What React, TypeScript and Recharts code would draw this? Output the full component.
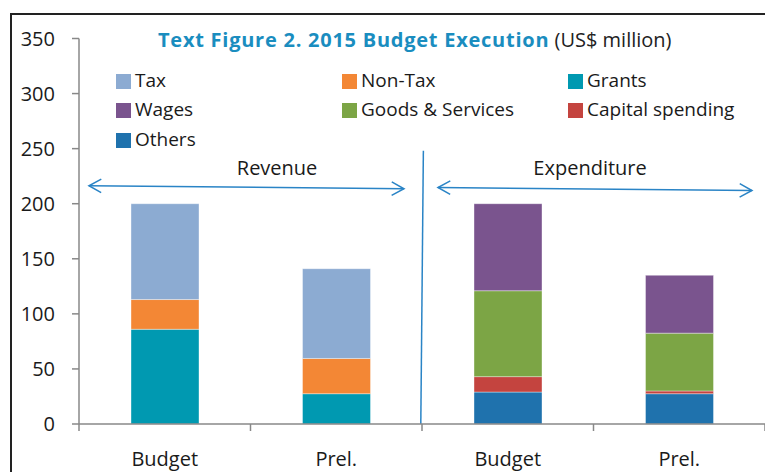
import React from "react";
import { BarChart, Bar, XAxis, YAxis, ReferenceLine, ReferenceDot } from "recharts";

const categories = ["Budget", "Prel.", "Budget", "Prel."];
const slots = [0.5, 1.5, 2.5, 3.5];

// revenue
const grants = [86, 27.5, 0, 0];
const nonTax = [27, 32, 0, 0];
const tax = [87, 81.5, 0, 0];
// expenditure
const others = [0, 0, 29, 27.5];
const capital = [0, 0, 14, 2.5];
const goods = [0, 0, 78, 52.5];
const wages = [0, 0, 79, 52.5];

const yTicks = [0, 50, 100, 150, 200, 250, 300, 350];

// annotations, in (slot position, value) units
const revenueArrow = [
  { x: 0.058, y: 216.3 },
  { x: 1.895, y: 213.6 },
];
const expenditureArrow = [
  { x: 2.093, y: 214.7 },
  { x: 3.924, y: 212 },
];
const divider = [
  { x: 2.008, y: 248 },
  { x: 1.993, y: 0 },
];
const groupLabels = [
  { text: "Revenue", x: 1.155, y: 232.5 },
  { text: "Expenditure", x: 2.98, y: 232.5 },
];

const FONT = "'Open Sans', 'Noto Sans', sans-serif";
const ARROW = "#2a84c6";

const series = [
  { key: "others", name: "Others", color: "#1f72ad" },
  { key: "capital", name: "Capital spending", color: "#c4443f" },
  { key: "goods", name: "Goods & Services", color: "#7ca545" },
  { key: "wages", name: "Wages", color: "#7a548e" },
  { key: "grants", name: "Grants", color: "#0099b1" },
  { key: "nonTax", name: "Non-Tax", color: "#f38735" },
  { key: "tax", name: "Tax", color: "#8cabd2" },
];

const legendOrder = [
  "tax",
  "nonTax",
  "grants",
  "wages",
  "goods",
  "capital",
  "others",
];

const data = categories.map((name, i) => ({
  name,
  slot: slots[i],
  grants: grants[i],
  nonTax: nonTax[i],
  tax: tax[i],
  others: others[i],
  capital: capital[i],
  goods: goods[i],
  wages: wages[i],
}));

const LegendGrid = () => (
  <div
    style={{
      position: "absolute",
      left: 116,
      top: 65,
      display: "grid",
      gridTemplateColumns: "226px 226px 226px",
      fontFamily: FONT,
      fontSize: 19,
      color: "#1a1a1a",
    }}
  >
    {legendOrder.map((k) => {
      const s = series.find((d) => d.key === k)!;
      return (
        <div
          key={k}
          style={{ display: "flex", alignItems: "center", height: 29.5 }}
        >
          <span
            style={{
              width: 15,
              height: 15,
              background: s.color,
              marginRight: 4,
              marginTop: 3,
            }}
          />
          <span>{s.name}</span>
        </div>
      );
    })}
  </div>
);

const arrowShape = (props: any) => {
  const { x1, y1, x2, y2 } = props;
  const a = Math.atan2(y2 - y1, x2 - x1);
  const len = 14;
  const spread = 0.5;
  const head = (x: number, y: number, dir: number) => {
    const p1x = x - len * Math.cos(dir - spread);
    const p1y = y - len * Math.sin(dir - spread);
    const p2x = x - len * Math.cos(dir + spread);
    const p2y = y - len * Math.sin(dir + spread);
    return `M${p1x},${p1y} L${x},${y} L${p2x},${p2y}`;
  };
  return (
    <g>
      <line x1={x1} y1={y1} x2={x2} y2={y2} stroke={ARROW} strokeWidth={1.5} />
      <path
        d={head(x2, y2, a) + " " + head(x1, y1, a + Math.PI)}
        fill="none"
        stroke={ARROW}
        strokeWidth={1.5}
      />
    </g>
  );
};

const textShape = (label: string) => (props: any) => (
  <text
    x={props.cx}
    y={props.cy}
    textAnchor="middle"
    dominantBaseline="central"
    fontFamily={FONT}
    fontSize={20}
    fill="#1a1a1a"
  >
    {label}
  </text>
);

const XTick = (p: any) => {
  const v = p.payload.value;
  if (Number.isInteger(v)) {
    return (
      <line
        x1={p.x}
        y1={p.y}
        x2={p.x}
        y2={p.y + 7}
        stroke="#888"
        strokeWidth={1.5}
      />
    );
  }
  const idx = slots.indexOf(v);
  return (
    <text
      x={p.x}
      y={p.y + 34}
      textAnchor="middle"
      dominantBaseline="central"
      fontFamily={FONT}
      fontSize={20}
      fill="#1a1a1a"
    >
      {categories[idx]}
    </text>
  );
};

const App = () => {
  return (
    <div
      style={{
        position: "fixed",
        left: 0,
        top: 0,
        width: 765,
        height: 472,
        background: "#fff",
        overflow: "hidden",
      }}
    >
      <div
        style={{
          position: "absolute",
          left: 10,
          top: 13,
          width: 800,
          height: 500,
          borderLeft: "2px solid #222",
          borderTop: "2px solid #222",
        }}
      />
      <div
        style={{
          position: "absolute",
          left: 158,
          top: 26,
          fontFamily: FONT,
          fontSize: 20,
          whiteSpace: "nowrap",
          color: "#222",
        }}
      >
        <span style={{ color: "#1a8dbf", fontWeight: 700, letterSpacing: 0.75 }}>
          Text Figure 2. 2015 Budget Execution
        </span>{" "}
        (US$ million)
      </div>
      <LegendGrid />
      <div style={{ position: "absolute", left: 0, top: 0 }}>
        <BarChart
          width={765}
          height={472}
          data={data}
          margin={{ top: 38.5, right: 0, bottom: 0, left: 0 }}
          barSize={68}
        >
          <XAxis
            dataKey="slot"
            type="number"
            domain={[0, 4]}
            allowDataOverflow
            ticks={[0, 0.5, 1, 1.5, 2, 2.5, 3, 3.5, 4]}
            interval={0}
            height={48}
            axisLine={{ stroke: "#888", strokeWidth: 1.5 }}
            tickLine={false}
            tickSize={0}
            tickMargin={0}
            tick={XTick}
          />
          <YAxis
            width={79}
            domain={[0, 350]}
            ticks={yTicks}
            interval={0}
            axisLine={{ stroke: "#888", strokeWidth: 1.5 }}
            tickLine={{ stroke: "#888", strokeWidth: 1.5 }}
            tickSize={7}
            tickMargin={17}
            tick={{ fill: "#1a1a1a", fontSize: 20, fontFamily: FONT }}
          />
          {series.map((s) => (
            <Bar
              key={s.key}
              dataKey={s.key}
              name={s.name}
              stackId="a"
              fill={s.color}
              stroke="#ffffff"
              strokeOpacity={0.5}
              strokeWidth={0.75}
              isAnimationActive={false}
            />
          ))}
          <ReferenceLine segment={divider} stroke={ARROW} strokeWidth={1.5} />
          <ReferenceLine segment={revenueArrow} shape={arrowShape} />
          <ReferenceLine segment={expenditureArrow} shape={arrowShape} />
          {groupLabels.map((g) => (
            <ReferenceDot
              key={g.text}
              x={g.x}
              y={g.y}
              r={0}
              shape={textShape(g.text)}
            />
          ))}
        </BarChart>
      </div>
    </div>
  );
};

export default App;
